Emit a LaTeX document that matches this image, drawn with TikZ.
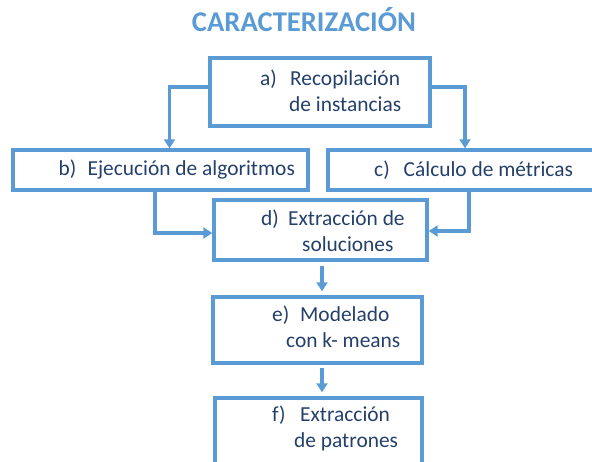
\documentclass[tikz,border=0pt]{standalone}
\usepackage{fontspec}
\setmainfont{Carlito}
\usetikzlibrary{arrows.meta}
\definecolor{linea}{HTML}{5B9BD5}
\definecolor{texto}{HTML}{24406A}
\tikzstyle{box}=[rectangle, draw=linea, line width=3.4pt, inner sep=0pt]
\tikzstyle{txt}=[anchor=west, align=left, text=texto, font=\fontsize{21.4}{26}\selectfont, inner sep=0pt]
\tikzstyle{conn}=[draw=linea, line width=3.4pt, -{Triangle[width=11pt,length=9pt]}]
\newcommand{\caja}{\node[box]}
\newcommand{\etiq}{\node[txt]}
\newcommand{\lbl}[2][28pt]{\makebox[#1][l]{#2}}

\begin{document}
\begin{tikzpicture}[x=1pt, y=-1pt]
\useasboundingbox (0,0) rectangle (592,462);
\node[text=linea, font=\fontsize{28.6}{32}\selectfont\bfseries] (titulo) at (304,20) {CARACTERIZACIÓN};
\caja (a) at (320,92) [minimum width=220, minimum height=68]{};
\caja (b) at (160.5,170) [minimum width=295, minimum height=40]{};
\caja (c) at (465,170) [minimum width=274, minimum height=40]{};
\caja (d) at (320.5,230) [minimum width=213, minimum height=60]{};
\caja (e) at (317.5,330) [minimum width=209, minimum height=66]{};
\caja (f) at (318.5,436) [minimum width=207, minimum height=76]{};
\etiq (ta) at (260,91) {\lbl[30pt]{a)}Recopilación\\\hspace*{29pt}de instancias};
\etiq (tb) at (58.5,170) {\lbl[29pt]{b)}Ejecución de algoritmos};
\etiq (tc) at (374,170) {\lbl[29.5pt]{c)}Cálculo de métricas};
\etiq (td) at (261,231) {\lbl[27pt]{d)}Extracción de\\\hspace*{41pt}soluciones};
\etiq (te) at (272,327) {\lbl{e)}Modelado\\\hspace*{14pt}con k- means};
\etiq (tf) at (272,428.5) {\lbl{f)}Extracción\\\hspace*{22pt}de patrones};
\draw[conn] ([yshift=5pt]a.west) -| ([xshift=9pt]b.north);
\draw[conn] ([yshift=5pt]a.east) -| (c.north);
\draw[conn] ([xshift=-5.5pt]b.south) |- ([yshift=-3pt]d.west);
\draw[conn] ([xshift=4pt]c.south) |- ([yshift=-1pt]d.east);
\draw[conn, shorten <=4pt, shorten >=4pt] ([xshift=1.5pt]d.south) -- ([xshift=1.5pt]d.south |- e.north);
\draw[conn, shorten <=3pt, shorten >=4pt] ([xshift=4.5pt]e.south) -- ([xshift=4.5pt]e.south |- f.north);
\end{tikzpicture}
\end{document}
